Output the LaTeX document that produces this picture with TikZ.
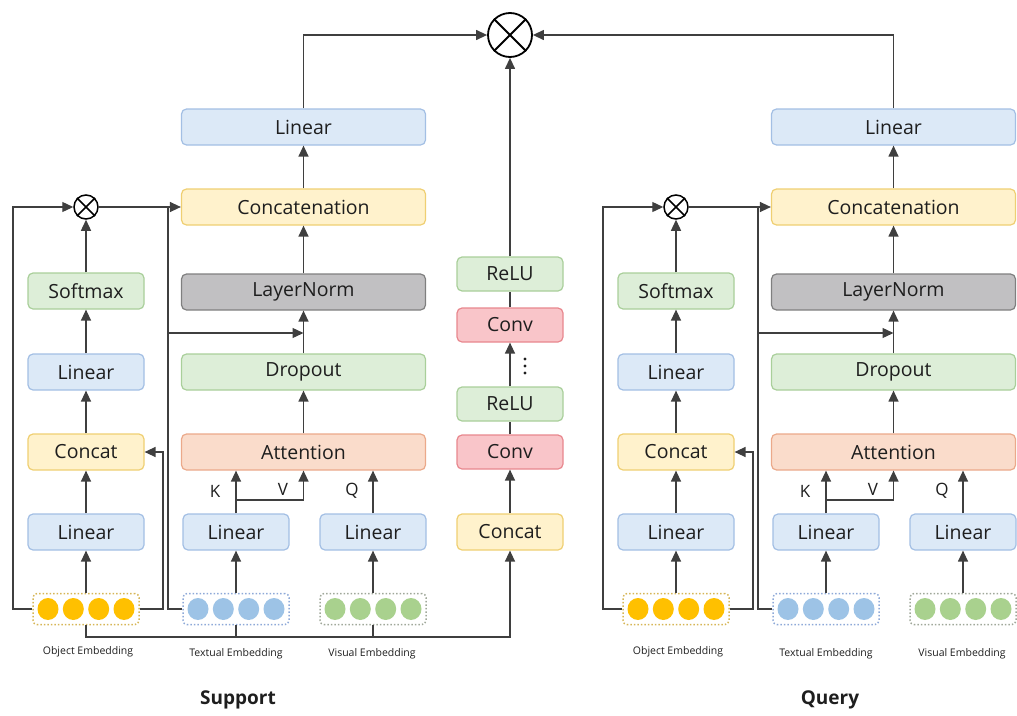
\documentclass[tikz,border=0pt]{standalone}
\usepackage{fontspec}
\setmainfont{Open Sans}
\usetikzlibrary{arrows.meta,calc}
\definecolor{blueF}{HTML}{DCE9F7}\definecolor{blueD}{HTML}{A3BFE4}
\definecolor{yelF}{HTML}{FFF2CC}\definecolor{yelD}{HTML}{EFCF72}
\definecolor{greF}{HTML}{DDEED8}\definecolor{greD}{HTML}{A9CF9A}
\definecolor{grayF}{HTML}{C1C0C2}\definecolor{grayD}{HTML}{7F7F7F}
\definecolor{peaF}{HTML}{FADCCB}\definecolor{peaD}{HTML}{EBA98A}
\definecolor{redF}{HTML}{F9C5C9}\definecolor{redD}{HTML}{E8878E}
\definecolor{yelC}{HTML}{FFC000}\definecolor{bluC}{HTML}{9DC3E6}\definecolor{greC}{HTML}{A9D18E}
\definecolor{yelB}{HTML}{D6B656}\definecolor{bluB}{HTML}{8EA9D8}\definecolor{greB}{HTML}{A0A89A}
\definecolor{lineC}{HTML}{3F3F3F}\definecolor{txtC}{HTML}{1E1E1E}
\tikzset{
 blk/.style={draw, rounded corners=5pt, line width=1.2pt, minimum height=36pt, inner sep=0pt,
   font=\fontsize{19.5}{22}\selectfont, text=txtC},
 lin/.style={blk, fill=blueF, draw=blueD},
 yel/.style={blk, fill=yelF, draw=yelD},
 gre/.style={blk, fill=greF, draw=greD},
 gry/.style={blk, fill=grayF, draw=grayD},
 pea/.style={blk, fill=peaF, draw=peaD},
 red/.style={blk, fill=redF, draw=redD},
 wide/.style={minimum width=244pt},
 narrow/.style={minimum width=116pt},
 small/.style={minimum width=106pt},
 arr/.style={-{Triangle[length=11pt,width=10pt]}, line width=1.3pt, draw=lineC},
 ln/.style={line width=1.3pt, draw=lineC},
 mul/.style={circle, draw=black, line width=1.5pt, minimum size=24pt, inner sep=0pt},
 emb/.style={draw, dotted, line width=1.5pt, rounded corners=4pt, minimum width=106pt, minimum height=31pt, inner sep=0pt},
 embl/.style={font=\fontsize{10.5}{12}\selectfont, text=txtC},
 kvq/.style={font=\fontsize{17}{19}\selectfont, text=txtC},
 ttl/.style={font=\fontsize{19}{22}\selectfont\bfseries, text=txtC},
}
\newcommand\mulcross[1]{\draw[line width=1.5pt] (#1.north west) -- (#1.south east) (#1.north east) -- (#1.south west);}
\newcommand\branch[2]{%
\begin{scope}[xshift=#2pt]
 % left column
 \node[lin,narrow] (#1lin1) at (86,532) {Linear};
 \node[yel,narrow] (#1cat) at (86,452) {Concat};
 \node[lin,narrow] (#1lin2) at (86,372) {Linear};
 \node[gre,narrow] (#1soft) at (86,291) {Softmax};
 \node[mul] (#1mul) at (86,207) {};
 \mulcross{#1mul}
 % main column
 \node[pea,wide] (#1att) at (303.5,452) {Attention};
 \node[gre,wide] (#1drop) at (303.5,372) {Dropout};
 \node[gry,wide] (#1ln) at (303.5,292) {LayerNorm};
 \node[yel,wide] (#1conc) at (303.5,207) {Concatenation};
 \node[lin,wide] (#1top) at (303.5,127) {Linear};
 \node[lin,small] (#1link) at (236,532) {Linear};
 \node[lin,small] (#1linq) at (373,532) {Linear};
 % embeddings
 \node[emb,draw=yelB] (#1obj) at (86,609) {};
 \node[emb,draw=bluB] (#1txt) at (236,609) {};
 \node[emb,draw=greB] (#1vis) at (373,609) {};
 \foreach \dx in {-38,-12.7,12.7,38}{
   \fill[yelC] (#1obj.center) ++(\dx pt,0) circle[x radius=10.5pt,y radius=11pt];
   \fill[bluC] (#1txt.center) ++(\dx pt,0) circle[x radius=10.5pt,y radius=11pt];
   \fill[greC] (#1vis.center) ++(\dx pt,0) circle[x radius=10.5pt,y radius=11pt];
 }
 \node[embl] (#1objl) at (88,652) {Object Embedding};
 \node[embl] (#1txtl) at (236,654) {Textual Embedding};
 \node[embl] (#1visl) at (372,654) {Visual Embedding};
 \node[kvq] (#1k) at (215,491) {K};
 \node[kvq] (#1v) at (283,489) {V};
 \node[kvq] (#1q) at (352,491) {Q};
 % coordinates
 \coordinate (#1ol) at (13,609);
 \coordinate (#1or) at (163,609);
 \coordinate (#1tl) at (168,609);
 \coordinate (#1tt) at (168,207);
 \coordinate (#1rs) at (168,333);
 \coordinate (#1re) at (303.5,333);
 \coordinate (#1kv) at (236,500);
 \coordinate (#1vv) at (303.5,500);
 % connectors
 \draw[arr] (#1obj.north) -- (#1lin1.south);
 \draw[arr] (#1lin1) -- (#1cat);
 \draw[arr] (#1cat) -- (#1lin2);
 \draw[arr] (#1lin2) -- (#1soft);
 \draw[arr] (#1soft) -- (#1mul);
 \draw[arr] (#1obj.west) -- (#1ol) |- (#1mul.west);
 \draw[arr] (#1mul.east) -- (#1conc.west);
 \draw[arr] (#1obj.east) -- (#1or) |- (#1cat.east);
 \draw[ln] (#1txt.west) -- (#1tl) -- (#1tt);
 \draw[arr] (#1rs) -- (#1re);
 \draw[arr] (#1txt.north) -- (#1link.south);
 \draw[arr] (#1vis.north) -- (#1linq.south);
 \draw[arr] (#1link.north) -- (#1link.north |- #1att.south);
 \draw[arr] (#1kv) -- (#1vv) -- (#1att.south);
 \draw[arr] (#1linq.north) -- (#1linq.north |- #1att.south);
 \draw[arr] (#1att) -- (#1drop);
 \draw[arr] (#1drop) -- (#1ln);
 \draw[arr] (#1ln) -- (#1conc);
 \draw[arr] (#1conc) -- (#1top);
\end{scope}}
\begin{document}
\begin{tikzpicture}[x=1pt,y=-1pt]
\useasboundingbox (0,0) rectangle (1017,715);
\branch{s}{0}
\branch{q}{590}
% middle column
\node[yel,small] (mcat) at (510,532) {Concat};
\node[red,small,minimum height=34pt] (mconva) at (510,452) {Conv};
\node[gre,small,minimum height=34pt] (mrelua) at (510,404) {ReLU};
\node[red,small,minimum height=34pt] (mconvb) at (510,325) {Conv};
\node[gre,small,minimum height=34pt] (mrelub) at (510,274) {ReLU};
\node[mul,minimum size=44pt,line width=1.8pt] (big) at (510,35) {};
\draw[line width=1.8pt] (big.north west) -- (big.south east) (big.north east) -- (big.south west);
\foreach \yy in {359,366,373} \fill[txtC] (525,\yy) circle (1.6pt);
\coordinate (bl) at (510,637);
\draw[arr] (sobj.south) |- (bl) -- (mcat.south);
\draw[ln] (stxt.south) -- (stxt.south |- bl);
\draw[ln] (svis.south) -- (svis.south |- bl);
\draw[arr] (mcat) -- (mconva);
\draw[ln] (mconva) -- (mrelua);
\draw[arr] (mrelua) -- (mconvb);
\draw[ln] (mconvb) -- (mrelub);
\draw[arr] (mrelub.north) -- (big.south);
\draw[arr] (stop.north) |- (big.west);
\draw[arr] (qtop.north) |- (big.east);
\node[ttl] (sup) at (238,700) {Support};
\node[ttl] (qry) at (830,700) {Query};
\end{tikzpicture}
\end{document}
